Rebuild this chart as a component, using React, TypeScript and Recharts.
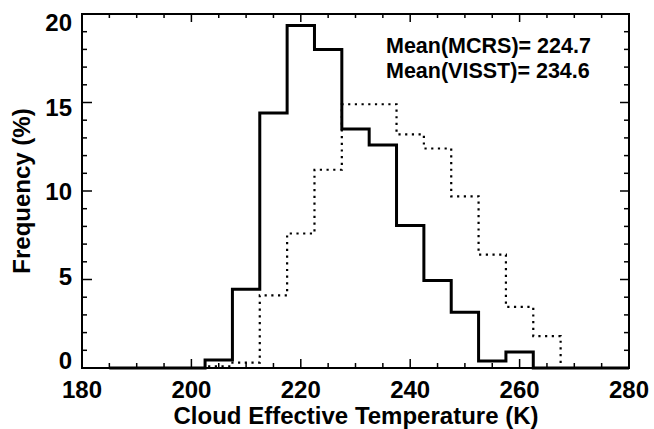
import { LineChart, Line, XAxis, YAxis } from "recharts";

// bin centres (K) and frequencies (%)
const temperatures = [
  185, 190, 195, 200, 205, 210, 215, 220, 225, 230,
  235, 240, 245, 250, 255, 260, 265, 270, 275, 280,
];
const mcrsFreq = [
  0, 0, 0, 0, 0.45, 4.45, 14.4, 19.35, 18.0, 13.5,
  12.6, 8.05, 4.95, 3.15, 0.4, 0.9, 0, 0, 0, 0,
];
const visstFreq = [
  0, 0, 0, 0, 0.1, 0.3, 4.1, 7.6, 11.2, 14.9,
  14.9, 13.2, 12.4, 9.7, 6.4, 3.45, 1.8, 0, 0, 0,
];

const xTicks = [
  180, 185, 190, 195, 200, 205, 210, 215, 220, 225, 230, 235, 240, 245,
  250, 255, 260, 265, 270, 275, 280,
];
const yTicks = [
  0, 1, 2, 3, 4, 5, 6, 7, 8, 9, 10, 11, 12, 13, 14, 15, 16, 17, 18, 19, 20,
];
const meanLabels = ["Mean(MCRS)= 224.7", "Mean(VISST)= 234.6"];

const FONT = "'Liberation Sans', Arial, Helvetica, sans-serif";
const W = 654;
const H = 429;
const LEFT_W = 82;
const RIGHT_W = 25;
const TOP_H = 14;
const BOTTOM_H = 61;
const X_DOMAIN = [180, 280];
const Y_DOMAIN = [0, 20];
// tickSize + tickMargin, recharts moves the tick props out by this much
const GAP = 8;

const data = temperatures.map((t, i) => ({
  temp: t,
  mcrs: mcrsFreq[i],
  visst: visstFreq[i],
}));

function BottomTick(props: any) {
  const { x, payload } = props;
  const y = props.y - GAP;
  if (payload.value % 20 !== 0) return <g />;
  return (
    <text x={x} y={y + 30} textAnchor="middle" fontFamily={FONT} fontWeight="bold" fontSize={24} fill="#000">
      {payload.value}
    </text>
  );
}

function LeftTick(props: any) {
  const { y, payload } = props;
  const x = props.x + GAP;
  if (payload.value % 5 !== 0) return <g />;
  // IDL puts the labels a little off the tick marks
  const dy = -7.5 + payload.value * 0.8;
  return (
    <text x={x - 10} y={y + dy + 8.5} textAnchor="end" fontFamily={FONT} fontWeight="bold" fontSize={24} fill="#000">
      {payload.value}
    </text>
  );
}

// frame, inward tick marks and titles, laid over the chart in a plain svg
function Overlay() {
  const left = LEFT_W;
  const right = W - RIGHT_W;
  const top = TOP_H;
  const bottom = H - BOTTOM_H;
  const sx = (v: number) => left + ((v - X_DOMAIN[0]) / (X_DOMAIN[1] - X_DOMAIN[0])) * (right - left);
  const sy = (v: number) => bottom - ((v - Y_DOMAIN[0]) / (Y_DOMAIN[1] - Y_DOMAIN[0])) * (bottom - top);

  return (
    <svg width={W} height={H} style={{ position: "absolute", left: 0, top: 0, pointerEvents: "none" }}>
      <rect x={left} y={top} width={right - left} height={bottom - top} fill="none" stroke="#000" strokeWidth={2} />
      <g stroke="#000" strokeWidth={1.5}>
        {xTicks.map((v) => {
          const major = v % 20 === 0;
          return (
            <g key={"x" + v}>
              <line x1={sx(v)} x2={sx(v)} y1={bottom} y2={bottom - (major ? 9 : 5)} />
              <line x1={sx(v)} x2={sx(v)} y1={top} y2={top + (major ? 8 : 4)} />
            </g>
          );
        })}
        {yTicks.map((v) => {
          const major = v % 5 === 0;
          return (
            <g key={"y" + v}>
              <line x1={left} x2={left + (major ? 10 : 5)} y1={sy(v)} y2={sy(v)} />
              <line x1={right} x2={right - (major ? 9 : 5)} y1={sy(v)} y2={sy(v)} />
            </g>
          );
        })}
      </g>
      <g fontFamily={FONT} fontWeight="bold" fill="#000">
        {meanLabels.map((s, i) => (
          <text key={s} x={386} y={53 + i * 25} fontSize={21.5}>
            {s}
          </text>
        ))}
        <text x={356} y={424} textAnchor="middle" fontSize={24}>
          Cloud Effective Temperature (K)
        </text>
        <text x={30} y={191} textAnchor="middle" fontSize={24} transform="rotate(-90, 30, 191)">
          Frequency (%)
        </text>
      </g>
    </svg>
  );
}

export default function App() {
  return (
    <div style={{ position: "absolute", left: 0, top: 0, width: W, height: H, background: "#fff" }}>
      <LineChart width={W} height={H} data={data} margin={{ top: TOP_H, right: RIGHT_W, bottom: 0, left: 0 }}>
        <XAxis
          dataKey="temp"
          type="number"
          domain={X_DOMAIN}
          ticks={xTicks}
          interval={0}
          height={BOTTOM_H}
          axisLine={{ stroke: "#000", strokeWidth: 2 }}
          tickLine={false}
          tickSize={6}
          tickMargin={2}
          tick={(p: any) => <BottomTick {...p} />}
        />
        <YAxis
          type="number"
          domain={Y_DOMAIN}
          ticks={yTicks}
          interval={0}
          width={LEFT_W}
          axisLine={{ stroke: "#000", strokeWidth: 2 }}
          tickLine={false}
          tickSize={6}
          tickMargin={2}
          tick={(p: any) => <LeftTick {...p} />}
        />
        <Line
          type="step"
          dataKey="visst"
          stroke="#000"
          strokeWidth={2.2}
          strokeDasharray="2.2 4.5"
          dot={false}
          activeDot={false}
          isAnimationActive={false}
        />
        <Line
          type="step"
          dataKey="mcrs"
          stroke="#000"
          strokeWidth={3}
          strokeLinejoin="miter"
          dot={false}
          activeDot={false}
          isAnimationActive={false}
        />
      </LineChart>
      <Overlay />
    </div>
  );
}
